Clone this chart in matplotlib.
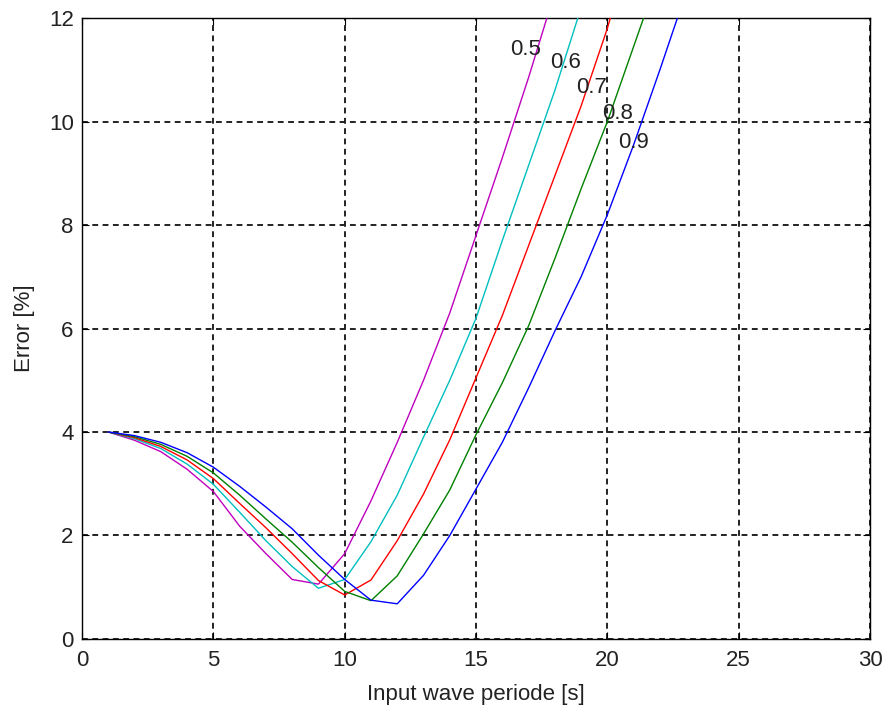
import matplotlib
matplotlib.use("Agg")
import matplotlib.pyplot as plt

plt.rcParams['font.family'] = ['Liberation Sans', 'DejaVu Sans']

# input wave period [s], sampled at whole seconds
periode = list(range(1, 24))

# error [%] for each ratio
err_05 = [4.0, 3.84, 3.62, 3.28, 2.85, 2.18, 1.65, 1.15, 1.06, 1.65, 2.67, 3.8,
          5.0, 6.3, 7.8, 9.3, 10.85, 12.5]
err_06 = [4.0, 3.87, 3.68, 3.38, 2.99, 2.45, 1.90, 1.40, 0.98, 1.15, 1.88, 2.78,
          3.9, 5.0, 6.2, 7.7, 9.15, 10.6, 12.2]
err_07 = [4.0, 3.89, 3.72, 3.46, 3.10, 2.62, 2.15, 1.65, 1.13, 0.85, 1.14, 1.9,
          2.8, 3.85, 5.05, 6.25, 7.6, 8.95, 10.3, 11.8, 13.6]
err_08 = [4.0, 3.91, 3.76, 3.53, 3.21, 2.78, 2.32, 1.87, 1.38, 0.92, 0.74, 1.22,
          2.03, 2.88, 3.95, 4.95, 6.05, 7.35, 8.7, 10.0, 11.45, 12.9]
err_09 = [4.0, 3.93, 3.80, 3.60, 3.32, 2.95, 2.55, 2.13, 1.62, 1.15, 0.75, 0.68,
          1.23, 2.0, 2.9, 3.8, 4.85, 5.95, 7.0, 8.2, 9.55, 11.0, 12.5]

etiquetas = ['0.5', '0.6', '0.7', '0.8', '0.9']
series = [err_05, err_06, err_07, err_08, err_09]
colores = [(0.75, 0, 0.75), (0, 0.75, 0.75), (1, 0, 0), (0, 0.5, 0), (0, 0, 1)]

# where the curve labels sit (data coords)
etiqueta_x = [16.9, 18.4, 19.4, 20.4, 21.0]
etiqueta_y = [11.4, 11.15, 10.66, 10.16, 9.6]

fig = plt.figure(figsize=(8.85, 7.07), dpi=100)
ax = fig.add_axes([0.0927, 0.0962, 0.8904, 0.8783])

for valores, c in zip(series, colores):
    ax.plot(periode[:len(valores)], valores, color=c, lw=1.0, zorder=3)

for txt, x, y in zip(etiquetas, etiqueta_x, etiqueta_y):
    ax.text(x, y, txt, fontsize=16, ha='center', va='center', color='#222222', zorder=4)

ax.set_xlim(0, 30)
ax.set_ylim(0, 12)
ax.set_xticks(range(0, 31, 5))
ax.set_yticks(range(0, 13, 2))
ax.grid(True, color='#222222', lw=1.4, linestyle=(0, (3, 2.3)))
ax.tick_params(direction='in', length=5, top=True, right=True, labelsize=16,
               labelcolor='#222222')
ax.tick_params(axis='x', pad=8)
ax.tick_params(axis='y', pad=6)
for s in ax.spines.values():
    s.set_linewidth(1.0)

ax.set_xlabel('Input wave periode [s]', fontsize=16, labelpad=9, color='#222222')
ax.set_ylabel('Error [%]', fontsize=16, labelpad=10, color='#222222')

fig.savefig('out.png', dpi=100)
